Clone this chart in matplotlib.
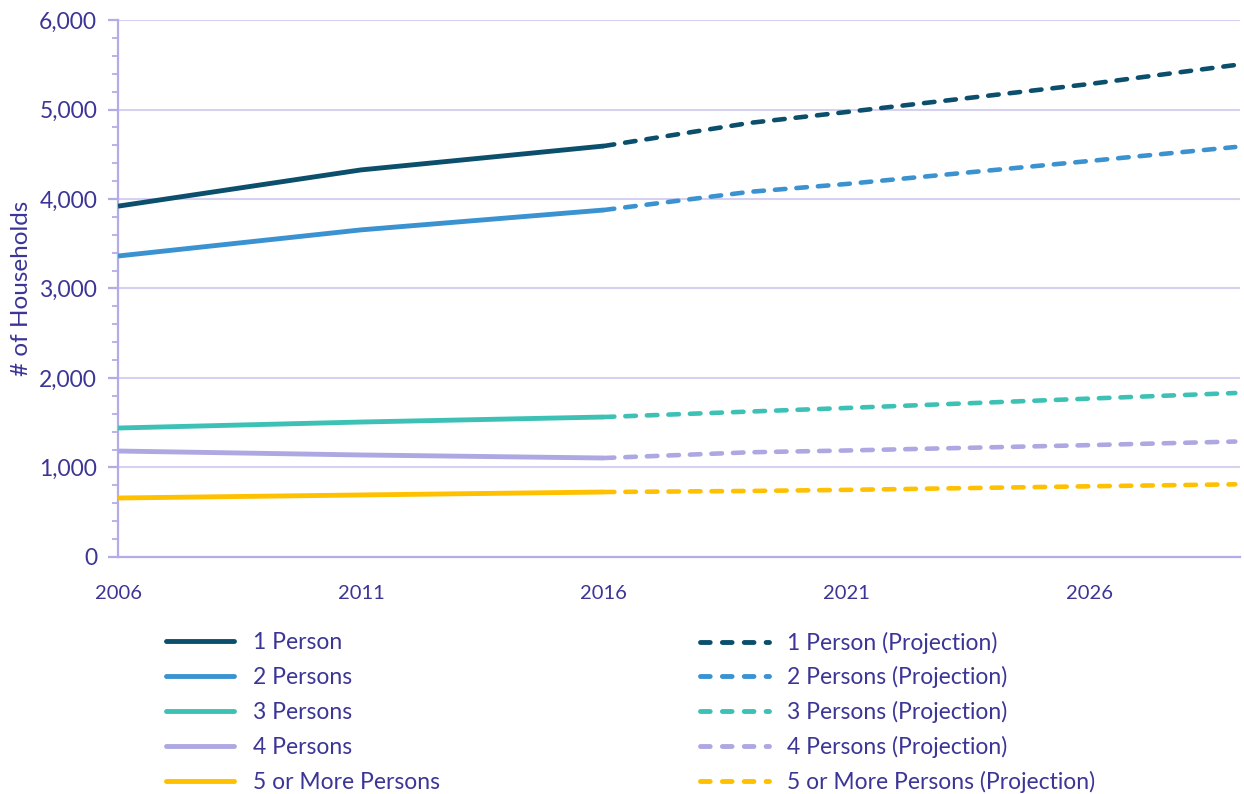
import matplotlib.pyplot as plt
from matplotlib.lines import Line2D

plt.rcParams['font.family'] = ['Lato', 'DejaVu Sans']

# historical (census) values
years_hist = [2006, 2011, 2016]
p1_hist = [3920, 4325, 4592]
p2_hist = [3363, 3655, 3877]
p3_hist = [1441, 1508, 1564]
p4_hist = [1184, 1140, 1106]
p5_hist = [659, 693, 726]

# projections
years_proj = [2016, 2019, 2021, 2026, 2029]
p1_proj = [4592, 4850, 4972, 5285, 5497]
p2_proj = [3877, 4080, 4168, 4425, 4581]
p3_proj = [1564, 1625, 1665, 1770, 1832]
p4_proj = [1106, 1170, 1190, 1250, 1290]
p5_proj = [726, 738, 750, 790, 812]

labels = ['1 Person', '2 Persons', '3 Persons', '4 Persons', '5 or More Persons']
colors = ['#0B4F6C', '#3A93D0', '#3EC1B5', '#ADA7E2', '#FFC000']
txt = '#3B3596'
axis_c = '#B4ACE6'
grid_c = '#D6D1F1'

fig = plt.figure(figsize=(12.44, 7.94), dpi=100)
ax = fig.add_axes([0.0949, 0.2985, 0.902, 0.6763])

hist = [p1_hist, p2_hist, p3_hist, p4_hist, p5_hist]
proj = [p1_proj, p2_proj, p3_proj, p4_proj, p5_proj]
for h, p, c in zip(hist, proj, colors):
    ax.plot(years_hist, h, color=c, lw=3.5, solid_capstyle='butt', zorder=3)
    ax.plot(years_proj, p, color=c, lw=3.3, dashes=(2.3, 2.4),
            dash_capstyle='round', zorder=3)

ax.set_xlim(2006, 2029.1)
ax.set_ylim(0, 6000)
ax.set_yticks(range(0, 6001, 1000))
ax.set_yticklabels([f'{v:,}' for v in range(0, 6001, 1000)])
ax.set_yticks(range(0, 6001, 200), minor=True)
ax.set_xticks([2006, 2011, 2016, 2021, 2026])

ax.grid(axis='y', color=grid_c, lw=1.5, zorder=0)
ax.set_axisbelow(True)
for s in ['top', 'right']:
    ax.spines[s].set_visible(False)
for s in ['left', 'bottom']:
    ax.spines[s].set_color(axis_c)
    ax.spines[s].set_linewidth(1.6)

ax.tick_params(axis='y', which='major', length=7, width=1.6, color=axis_c,
               labelsize=16.5, labelcolor=txt, pad=8)
ax.tick_params(axis='y', which='minor', length=4, width=1.3, color=axis_c)
ax.tick_params(axis='x', length=0, labelsize=14.5, labelcolor=txt, pad=20)

ax.set_ylabel('# of Households', fontsize=17.5, color=txt, labelpad=5)

# legend: two separate columns so the row spacing matches
solid = [Line2D([], [], color=c, lw=3.5, solid_capstyle='round') for c in colors]
dashed = [Line2D([], [], color=c, lw=3.5, dashes=(2.0, 2.5), dash_capstyle='round')
          for c in colors]
leg_kw = dict(loc='upper left', frameon=False, fontsize=16.5, labelcolor=txt,
              handlelength=3.0, handletextpad=0.8, borderpad=0)
fig.legend(solid, labels, bbox_to_anchor=(0.124, 0.219),
           labelspacing=0.62, **leg_kw)
fig.legend(dashed, [l + ' (Projection)' for l in labels],
           bbox_to_anchor=(0.5535, 0.219), labelspacing=0.555, **leg_kw)

fig.savefig('out.png', dpi=100)
